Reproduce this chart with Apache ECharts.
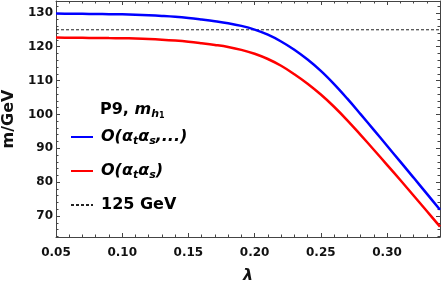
<!DOCTYPE html>
<html><head><meta charset="utf-8">
<script src="https://cdn.jsdelivr.net/npm/echarts@6/dist/echarts.min.js"></script>
<style>html,body{margin:0;padding:0;background:#fff}#c{width:441px;height:288px}</style>
</head><body><div id="c"></div>
<script>
// ---- data ----
const lambdaVals = [0.05,0.06,0.07,0.08,0.09,0.10,0.11,0.12,0.13,0.14,0.15,0.16,0.17,0.18,0.19,0.20,0.21,0.22,0.23,0.24,0.25,0.26,0.27,0.28,0.29,0.30,0.31,0.32,0.33,0.34];
const blueVals = [129.8,129.75,129.7,129.65,129.6,129.55,129.45,129.3,129.1,128.85,128.5,128.05,127.55,126.95,126.15,125.05,123.55,121.55,119.1,116.2,112.85,108.95,104.65,100.1,95.45,90.75,86.05,81.35,76.6,71.85];
const redVals = [122.7,122.66,122.62,122.58,122.54,122.5,122.42,122.29,122.09,121.82,121.47,121.02,120.52,119.92,119.07,117.92,116.37,114.37,111.87,109.07,105.87,102.27,98.27,93.97,89.57,85.12,80.62,76.07,71.47,66.87];
const refValue = 125;
const xMajor = [0.05,0.10,0.15,0.20,0.25,0.30];
const xMinor = [0.06,0.07,0.08,0.09,0.11,0.12,0.13,0.14,0.16,0.17,0.18,0.19,0.21,0.22,0.23,0.24,0.26,0.27,0.28,0.29,0.31,0.32,0.33];
const yMajor = [70,80,90,100,110,120,130];
const yMinor = [64,66,68,72,74,76,78,82,84,86,88,92,94,96,98,102,104,106,108,112,114,116,118,122,124,126,128,132];
const xRange = [0.05, 0.34];
const yRange = [63.8, 133.5];
const names = ['O(αtαs,...)', 'O(αtαs)', '125 GeV'];

// ---- chart ----
const FONT = 'DejaVu Sans';
const frameColor = '#444';
function xAx(grid, pos, ticks, len, withLabel, withLine) {
  return {
    type: 'value', gridIndex: grid, position: pos, min: xRange[0], max: xRange[1],
    splitLine: {show: false},
    axisLine: {show: withLine, onZero: false, lineStyle: {color: frameColor, width: 1}},
    axisTick: {show: true, inside: true, length: len, customValues: ticks, lineStyle: {color: frameColor}},
    axisLabel: withLabel ? {show: true, customValues: xMajor, margin: 10, color: '#111',
      fontFamily: FONT, fontWeight: 'bold', fontSize: 12,
      formatter: v => v.toFixed(2)} : {show: false},
    name: withLabel ? 'λ' : '', nameLocation: 'middle', nameGap: 31,
    nameTextStyle: {fontFamily: FONT, fontWeight: 'bold', fontStyle: 'italic', fontSize: 16, color: '#111'}
  };
}
function yAx(grid, pos, ticks, len, withLabel, withLine) {
  return {
    type: 'value', gridIndex: grid, position: pos, min: yRange[0], max: yRange[1],
    splitLine: {show: false},
    axisLine: {show: withLine, onZero: false, lineStyle: {color: frameColor, width: 1}},
    axisTick: {show: true, inside: true, length: len, customValues: ticks, lineStyle: {color: frameColor}},
    axisLabel: withLabel ? {show: true, customValues: yMajor, margin: 3, color: '#111',
      fontFamily: FONT, fontWeight: 'bold', fontSize: 12} : {show: false},
    name: withLabel ? 'm/GeV' : '', nameLocation: 'middle', nameGap: 37,
    nameTextStyle: {fontFamily: FONT, fontWeight: 'bold', fontSize: 16, color: '#111'}
  };
}
const gridBox = {left: 56, right: 1, top: 1, bottom: 51, outerBoundsMode: 'none', containLabel: false};
const toPairs = arr => lambdaVals.map((x, i) => [x, arr[i]]);

const mathBase = {fontFamily: FONT, fontWeight: 'bold', fontStyle: 'italic', fontSize: 16, color: '#000', lineHeight: 20};
const subStyle = {fontFamily: FONT, fontWeight: 'bold', fontStyle: 'italic', fontSize: 11, color: '#000', lineHeight: 6, verticalAlign: 'bottom'};
const richStyles = {
  m: mathBase,
  s: subStyle,
  ss: {fontFamily: FONT, fontWeight: 'bold', fontSize: 8, color: '#000', lineHeight: 2, verticalAlign: 'bottom'},
  b: {fontFamily: FONT, fontWeight: 'bold', fontSize: 16, color: '#000', lineHeight: 20}
};
const legendFmt = {
  [names[0]]: '{m|O(α}{s|t}{m|α}{s|s}{m|,...)}',
  [names[1]]: '{m|O(α}{s|t}{m|α}{s|s}{m|)}',
  [names[2]]: '{b|125 GeV}'
};

const option = {
  animation: false,
  backgroundColor: '#fff',
  grid: [Object.assign({}, gridBox), Object.assign({}, gridBox)],
  xAxis: [
    xAx(0, 'bottom', xMajor, 4, true, true),
    xAx(0, 'top', xMajor, 4, false, true),
    xAx(1, 'bottom', xMinor, 2.5, false, false),
    xAx(1, 'top', xMinor, 2.5, false, false)
  ],
  yAxis: [
    yAx(0, 'left', yMajor, 4, true, true),
    yAx(0, 'right', yMajor, 4, false, true),
    yAx(1, 'left', yMinor, 2.5, false, false),
    yAx(1, 'right', yMinor, 2.5, false, false)
  ],
  title: {
    text: '{b|P9, }{m|m}{s|h}{ss|1}',
    left: 100, top: 100, padding: 0,
    textStyle: {rich: richStyles}
  },
  legend: {
    orient: 'vertical', left: 70, top: 129, padding: 0, itemGap: 16,
    itemWidth: 22, itemHeight: 10,
    itemStyle: {opacity: 0},
    data: names,
    formatter: n => legendFmt[n],
    textStyle: {padding: [0, 0, 0, 3], rich: richStyles}
  },
  series: [
    {name: names[2], type: 'line', xAxisIndex: 0, yAxisIndex: 0, symbol: 'none',
     data: [[xRange[0], refValue], [xRange[1], refValue]],
     lineStyle: {color: '#222', width: 1, type: [3, 2]}, itemStyle: {color: '#222'}, z: 1},
    {name: names[0], type: 'line', xAxisIndex: 0, yAxisIndex: 0, symbol: 'none', smooth: 0.4,
     data: toPairs(blueVals), lineStyle: {color: '#0000ff', width: 2.5}, itemStyle: {color: '#0000ff'}, z: 3},
    {name: names[1], type: 'line', xAxisIndex: 0, yAxisIndex: 0, symbol: 'none', smooth: 0.4,
     data: toPairs(redVals), lineStyle: {color: '#ff0000', width: 2.5}, itemStyle: {color: '#ff0000'}, z: 2}
  ]
};
const chart = echarts.init(document.getElementById('c'), null, {renderer: 'canvas'});
chart.setOption(option);
</script></body></html>
